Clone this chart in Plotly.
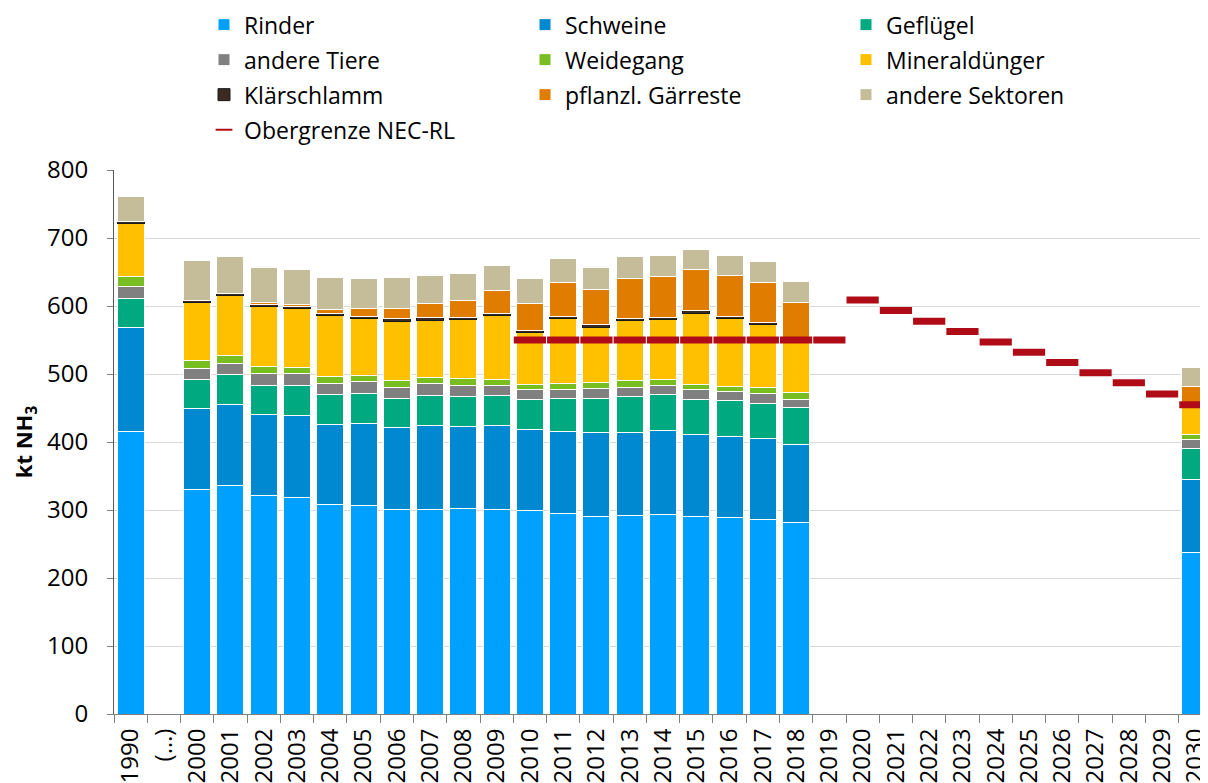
import plotly.graph_objects as go

categories = ["1990", "(…)"] + [str(y) for y in range(2000, 2031)]

bar_years = ["1990", "2000", "2001", "2002", "2003", "2004", "2005", "2006", "2007", "2008",
             "2009", "2010", "2011", "2012", "2013", "2014", "2015", "2016", "2017", "2018", "2030"]

rinder = [415.4, 330.7, 335.6, 320.9, 318.0, 308.6, 306.2, 300.3, 300.3, 302.3,
          301.3, 299.3, 295.4, 290.0, 292.0, 293.0, 291.0, 289.0, 285.6, 281.2, 238.1]
schweine = [153.2, 119.0, 119.0, 119.1, 121.0, 116.6, 121.5, 121.0, 123.4, 120.5,
            122.4, 118.6, 120.0, 124.4, 122.4, 123.9, 119.5, 119.1, 119.0, 115.6, 106.5]
gefluegel = [42.5, 41.7, 44.1, 43.5, 43.5, 44.1, 44.1, 42.6, 44.6, 44.6,
             44.1, 44.1, 48.0, 50.0, 52.5, 52.4, 52.5, 52.4, 52.5, 53.9, 45.6]
andere_tiere = [18.0, 17.1, 17.2, 17.7, 17.7, 17.2, 17.1, 16.7, 17.2, 16.1,
                15.7, 14.7, 14.2, 14.7, 13.7, 13.7, 13.7, 13.2, 13.7, 12.2, 12.8]
weidegang = [15.0, 10.8, 10.7, 9.8, 9.8, 9.3, 8.3, 9.8, 9.8, 9.3,
             8.8, 8.3, 8.9, 8.8, 9.8, 9.3, 8.3, 7.9, 8.8, 9.8, 8.2]
mineral = [77.5, 86.5, 88.4, 88.5, 86.5, 90.7, 83.8, 87.1, 83.7, 87.2,
           94.2, 75.7, 94.5, 81.1, 87.6, 87.2, 104.5, 99.7, 93.3, 76.3, 41.0]
klaerschlamm = [3.0, 3.0, 3.0, 3.0, 3.0, 3.0, 3.0, 3.5, 3.5, 3.0,
                3.0, 3.2, 3.4, 3.2, 3.0, 3.0, 3.3, 3.1, 2.7, 2.6, 2.0]
gaerreste = [0.0, 0.0, 0.0, 3.0, 3.0, 4.7, 12.2, 15.7, 21.5, 25.5,
             32.7, 40.1, 50.0, 51.4, 59.8, 60.2, 60.2, 59.8, 59.3, 53.9, 27.5]
andere_sektoren = [36.0, 57.5, 54.6, 51.5, 51.0, 47.6, 44.6, 45.6, 40.7, 39.1,
                   37.2, 35.8, 34.8, 33.4, 32.3, 31.9, 30.4, 30.4, 29.9, 29.9, 28.4]

nec_years = [str(y) for y in range(2010, 2031)]
nec_limit = [550, 550, 550, 550, 550, 550, 550, 550, 550, 550,
             609, 593.5, 577.6, 562.6, 547, 532, 517, 502, 487, 470.5, 454.6]

series = [
    ("Rinder", rinder, "#00A0FF", "legend"),
    ("Schweine", schweine, "#0088D0", "legend"),
    ("Geflügel", gefluegel, "#00A97F", "legend"),
    ("andere Tiere", andere_tiere, "#808080", "legend2"),
    ("Weidegang", weidegang, "#78BE20", "legend2"),
    ("Mineraldünger", mineral, "#FFC000", "legend2"),
    ("Klärschlamm", klaerschlamm, "#3A2A22", "legend3"),
    ("pflanzl. Gärreste", gaerreste, "#E07C00", "legend3"),
    ("andere Sektoren", andere_sektoren, "#C5BD99", "legend3"),
]

FONT = "Open Sans"
fig = go.Figure()
for name, vals, color, leg in series:
    line_color = "#1a1a1a" if name == "Klärschlamm" else "white"
    fig.add_trace(go.Bar(
        x=bar_years, y=vals, name=name, legend=leg,
        marker=dict(color=color, line=dict(color=line_color, width=1)),
    ))

fig.add_trace(go.Scatter(
    x=nec_years, y=nec_limit, name="Obergrenze NEC-RL", legend="legend4",
    mode="markers",
    marker=dict(symbol="line-ew", size=23, color="#B00C18",
                line=dict(color="#B00C18", width=7)),
))

# page body adds an 8px offset; positions below are in screen pixels
OFF = 8
row_y = [25, 60, 95, 130]
top_px, bot_px = 170.3, 714.3
def py(ypx):
    return (bot_px - ypx) / (bot_px - top_px)

W, H = 1208, 783
ml = 114 - OFF
mt = round(top_px - OFF)
mb = round(H - (bot_px - OFF))
mr = 4
plot_w = W - ml - mr
leg_x = (204 - OFF - ml) / plot_w

leg_common = dict(orientation="h", xanchor="left", x=leg_x, yanchor="middle",
                  entrywidth=276, entrywidthmode="pixels",
                  font=dict(family=FONT, size=23, color="#000000"),
                  bgcolor="rgba(0,0,0,0)", traceorder="normal", itemclick=False)

fig.update_layout(
    barmode="stack",
    bargap=0.19,
    width=W, height=H,
    margin=dict(l=ml, r=mr, t=mt, b=mb, autoexpand=False),
    plot_bgcolor="white", paper_bgcolor="white",
    font=dict(family=FONT, size=23, color="#000000"),
    showlegend=True,
    legend=dict(leg_common, y=py(row_y[0])),
    legend2=dict(leg_common, y=py(row_y[1])),
    legend3=dict(leg_common, y=py(row_y[2])),
    legend4=dict(leg_common, y=py(row_y[3]), itemsizing="constant"),
    xaxis=dict(
        type="category", categoryorder="array", categoryarray=categories,
        tickmode="array", tickvals=categories, ticktext=categories,
        range=[-0.5, 32.5], tickangle=-90, automargin=False,
        ticks="outside", ticklen=8, tickcolor="#808080", tickson="boundaries",
        showline=True, linecolor="#808080", linewidth=1, ticklabelstandoff=4,
        showgrid=False, tickfont=dict(family=FONT, size=24, color="#000000"),
    ),
    yaxis=dict(
        range=[0, 800], dtick=100, tick0=0, automargin=False,
        ticks="outside", ticklen=6, tickcolor="#808080",
        showline=True, linecolor="#595959", linewidth=1,
        showgrid=True, gridcolor="#D9D9D9", gridwidth=1,
        zeroline=False, ticklabelstandoff=14,
        tickfont=dict(family=FONT, size=24, color="#000000"),
        title=dict(text="<b>kt NH<sub>3</sub></b>", font=dict(family=FONT, size=22, color="#000000"),
                   standoff=12),
    ),
)

fig.write_html("out.html")
